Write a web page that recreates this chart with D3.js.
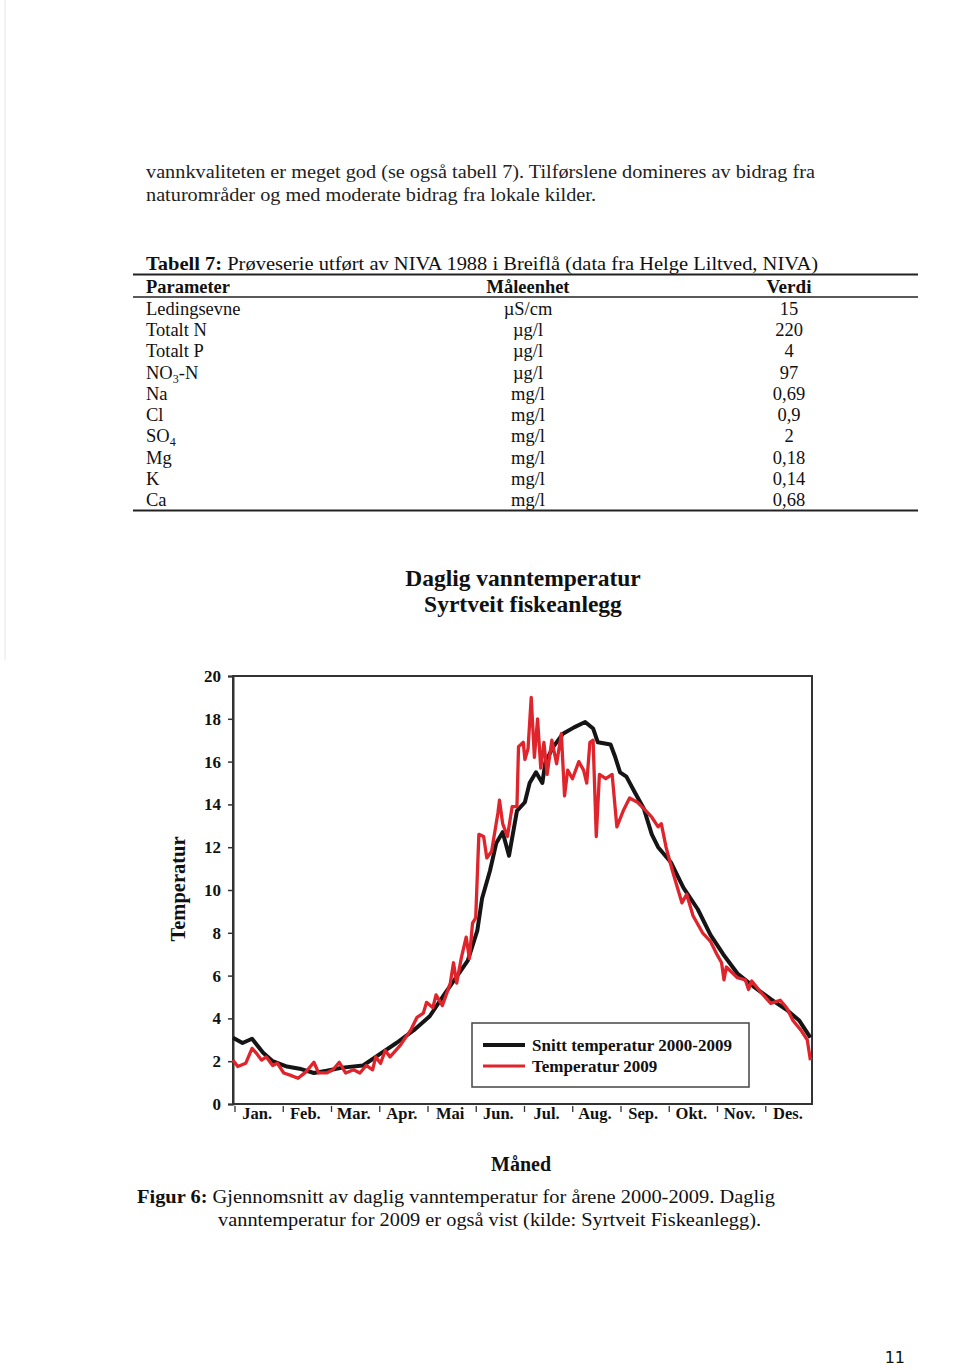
<!DOCTYPE html>
<html><head><meta charset="utf-8">
<script src="https://cdn.jsdelivr.net/npm/d3@7"></script>
<style>
html,body{margin:0;padding:0;background:#fff;}
svg{display:block;}
</style></head>
<body>
<svg id="page" width="960" height="1370"></svg>
<script>
// ---------- DATA ----------
const introLines = [
  "vannkvaliteten er meget god (se også tabell 7). Tilførslene domineres av bidrag fra",
  "naturområder og med moderate bidrag fra lokale kilder."
];
const tableTitleBold = "Tabell 7:";
const tableTitleRest = " Prøveserie utført av NIVA 1988 i Breiflå (data fra Helge Liltved, NIVA)";
const tableHeaders = ["Parameter", "Måleenhet", "Verdi"];
const paramNames = [["Ledingsevne"],["Totalt N"],["Totalt P"],["NO","3","-N"],["Na"],["Cl"],["SO","4",""],["Mg"],["K"],["Ca"]];
const paramUnits = ["µS/cm","µg/l","µg/l","µg/l","mg/l","mg/l","mg/l","mg/l","mg/l","mg/l"];
const paramValues = ["15","220","4","97","0,69","0,9","2","0,18","0,14","0,68"];

const chartTitle = ["Daglig vanntemperatur", "Syrtveit fiskeanlegg"];
const months = ["Jan.","Feb.","Mar.","Apr.","Mai","Jun.","Jul.","Aug.","Sep.","Okt.","Nov.","Des."];
const yTicks = [0,2,4,6,8,10,12,14,16,18,20];
const seriesNames = ["Snitt temperatur 2000-2009", "Temperatur 2009"];

// average 2000-2009 : day of year, temperature
const avgDays = [0,6,12,19,25,34,42,51,59,69,82,93,103,114,124,133,141,148,154,157,162,166,170,174,179,184,187,191,195,197,202,208,215,222,227,230,238,241,244,248,253,259,264,268,276,284,293,301,309,318,328,339,349,357,364];
const avgTemp = [3.1,2.85,3.05,2.4,2.0,1.75,1.65,1.45,1.55,1.7,1.8,2.35,2.85,3.45,4.1,5.1,5.95,6.7,8.1,9.6,10.9,12.2,12.7,11.6,13.7,14.1,15.0,15.5,15.0,16.0,16.7,17.3,17.6,17.85,17.55,16.9,16.8,16.2,15.5,15.3,14.6,13.8,12.6,12.0,11.3,10.1,9.1,7.9,7.0,6.1,5.5,4.9,4.4,3.9,3.1];

// 2009
const y09Days = [0,3,8,12,15,18,21,25,28,32,36,41,46,51,54,59,63,67,71,76,80,84,88,90,93,96,99,105,112,116,120,122,126,128,132,137,139,141,144,147,149,151,153,155,158,160,163,167,168,170,173,176,179,180,183,184,186,188,190,192,194,196,198,201,204,207,209,211,214,218,221,223,225,227,229,231,235,239,242,246,250,255,259,264,268,270,273,277,283,286,290,296,301,305,308,309.5,311,318,323,325,327,333,339,345,349,353,358,362,364];
const y09Temp = [2.05,1.75,1.9,2.6,2.35,2.05,2.2,1.8,1.9,1.45,1.35,1.2,1.5,1.95,1.45,1.45,1.6,1.95,1.45,1.6,1.45,1.8,1.6,2.2,1.9,2.5,2.2,2.7,3.45,4.05,4.25,4.75,4.5,5.1,4.6,5.65,6.6,5.65,6.85,7.8,6.8,8.45,8.7,12.6,12.5,11.5,11.8,13.6,14.2,13.1,12.5,13.9,13.9,16.7,16.9,16.1,16.6,19.0,16.2,18.0,15.7,16.9,15.4,17.0,15.9,17.3,14.4,15.6,15.2,16.0,15.6,15.0,16.9,17.0,12.5,15.4,15.2,15.4,12.95,13.7,14.3,14.1,13.8,13.4,12.95,13.1,12.0,10.9,9.4,9.8,8.8,8.0,7.6,7.0,6.6,5.8,6.4,5.9,5.8,5.35,5.75,5.2,4.7,4.85,4.5,3.9,3.45,3.0,2.05];

const axisTitleY = "Temperatur";
const axisTitleX = "Måned";
const captionBold = "Figur 6:";
const captionRest = " Gjennomsnitt av daglig vanntemperatur for årene 2000-2009. Daglig";
const captionLine2 = "vanntemperatur for 2009 er også vist (kilde: Syrtveit Fiskeanlegg).";
const pageNumber = "11";

// ---------- DRAW ----------
const svg = d3.select("#page");
const serif = "'Liberation Serif','Times New Roman',serif";
svg.append("rect").attr("width",960).attr("height",1370).attr("fill","#fff");
svg.append("line").attr("x1",5).attr("x2",5).attr("y1",0).attr("y2",660).attr("stroke","#e6e6e6").attr("stroke-width",1);

// intro text
svg.append("text").attr("x",146).attr("y",178).attr("font-family",serif).attr("font-size",19.5)
  .attr("textLength",669).attr("lengthAdjust","spacingAndGlyphs").attr("fill","#222").text(introLines[0]);
svg.append("text").attr("x",146).attr("y",201).attr("font-family",serif).attr("font-size",19.5)
  .attr("textLength",450).attr("lengthAdjust","spacingAndGlyphs").attr("fill","#222").text(introLines[1]);

// table
const tt = svg.append("text").attr("x",146).attr("y",270).attr("font-family",serif).attr("font-size",19.5)
  .attr("textLength",672).attr("lengthAdjust","spacingAndGlyphs").attr("fill","#111");
tt.append("tspan").attr("font-weight","bold").text(tableTitleBold);
tt.append("tspan").text(tableTitleRest);
svg.append("line").attr("x1",133).attr("x2",918).attr("y1",274.5).attr("y2",274.5).attr("stroke","#222").attr("stroke-width",2);
svg.append("line").attr("x1",133).attr("x2",918).attr("y1",297).attr("y2",297).attr("stroke","#222").attr("stroke-width",1.5);
svg.append("line").attr("x1",133).attr("x2",918).attr("y1",510.5).attr("y2",510.5).attr("stroke","#222").attr("stroke-width",2);

const colX = [146, 528, 789];
const colAnchor = ["start","middle","middle"];
const headerW = [84, 83, 45];
tableHeaders.forEach((h,i)=>{
  svg.append("text").attr("x",colX[i]).attr("y",293).attr("text-anchor",colAnchor[i])
    .attr("font-family",serif).attr("font-size",18.5).attr("font-weight","bold").attr("fill","#111")
    .attr("textLength",headerW[i]).attr("lengthAdjust","spacingAndGlyphs").text(h);
});
const rowY = d3.scaleLinear().domain([0,9]).range([315,506]);
paramNames.forEach((p,i)=>{
  const t = svg.append("text").attr("x",colX[0]).attr("y",rowY(i)).attr("font-family",serif)
    .attr("font-size",18.5).attr("fill","#111");
  t.append("tspan").text(p[0]);
  if (p.length>1){
    t.append("tspan").attr("font-size",12).attr("dy",4).text(p[1]);
    t.append("tspan").attr("dy",-4).text(p[2]);
  }
  svg.append("text").attr("x",colX[1]).attr("y",rowY(i)).attr("text-anchor","middle").attr("font-family",serif)
    .attr("font-size",18.5).attr("fill","#111").text(paramUnits[i]);
  svg.append("text").attr("x",colX[2]).attr("y",rowY(i)).attr("text-anchor","middle").attr("font-family",serif)
    .attr("font-size",18.5).attr("fill","#111").text(paramValues[i]);
});

// chart title
svg.append("text").attr("x",523).attr("y",586).attr("text-anchor","middle").attr("font-family",serif)
  .attr("font-size",23.5).attr("font-weight","bold").attr("fill","#111").text(chartTitle[0]);
svg.append("text").attr("x",523).attr("y",612).attr("text-anchor","middle").attr("font-family",serif)
  .attr("font-size",23.5).attr("font-weight","bold").attr("fill","#111").text(chartTitle[1]);

// plot
const L=233, R=812, T=676, B=1104;
const x = d3.scaleLinear().domain([0,365]).range([L,R]);
const y = d3.scaleLinear().domain([0,20]).range([B,T]);
const xm = d3.scaleBand().domain(months).range([L,R]);

// frame
svg.append("rect").attr("x",L).attr("y",T).attr("width",R-L).attr("height",B-T)
  .attr("fill","none").attr("stroke","#333").attr("stroke-width",2);

// y axis
const yAxis = d3.axisLeft(y).tickValues(yTicks).tickSize(5).tickPadding(7);
const gy = svg.append("g").attr("transform",`translate(${L},0)`).call(yAxis);
gy.select(".domain").attr("stroke","#333").attr("stroke-width",2);
gy.selectAll(".tick line").attr("stroke","#333").attr("stroke-width",1.5);
gy.selectAll(".tick text").attr("font-family",serif).attr("font-size",17).attr("font-weight","bold").attr("fill","#111");

// x axis (months)
const xAxis = d3.axisBottom(xm).tickSize(0).tickPadding(3);
const gx = svg.append("g").attr("transform",`translate(0,${B})`).call(xAxis);
gx.select(".domain").remove();
gx.selectAll(".tick text").attr("font-family",serif).attr("font-size",16.5).attr("font-weight","bold").attr("fill","#111");
svg.append("g").selectAll("line").data(months).join("line")
  .attr("x1",d=>xm(d)+2).attr("x2",d=>xm(d)+2).attr("y1",B+2).attr("y2",B+8)
  .attr("stroke","#333").attr("stroke-width",1.3);

// lines
const avgData = avgDays.map((d,i)=>({d, t:avgTemp[i]}));
const y09Data = y09Days.map((d,i)=>({d, t:y09Temp[i]}));
const line = d3.line().x(p=>x(p.d)).y(p=>y(p.t));
svg.append("path").datum(avgData).attr("d",line).attr("fill","none").attr("stroke","#151515")
  .attr("stroke-width",4).attr("stroke-linejoin","round");
svg.append("path").datum(y09Data).attr("d",line).attr("fill","none").attr("stroke","#e0242c")
  .attr("stroke-width",3.3).attr("stroke-linejoin","round");

// legend
svg.append("rect").attr("x",472).attr("y",1023).attr("width",277).attr("height",64)
  .attr("fill","#fff").attr("stroke","#444").attr("stroke-width",1.5);
const legColors = ["#151515","#e0242c"];
seriesNames.forEach((n,i)=>{
  const ly = 1045 + i*21;
  svg.append("line").attr("x1",483).attr("x2",525).attr("y1",ly).attr("y2",ly)
    .attr("stroke",legColors[i]).attr("stroke-width",i?3:4);
  svg.append("text").attr("x",532).attr("y",ly+6).attr("font-family",serif).attr("font-size",17)
    .attr("font-weight","bold").attr("fill","#111").text(n);
});

// axis titles
svg.append("text").attr("transform","translate(185,889) rotate(-90)").attr("text-anchor","middle")
  .attr("font-family",serif).attr("font-size",20.5).attr("font-weight","bold").attr("fill","#111").text(axisTitleY);
svg.append("text").attr("x",521).attr("y",1171).attr("text-anchor","middle")
  .attr("font-family",serif).attr("font-size",20).attr("font-weight","bold").attr("fill","#111").text(axisTitleX);

// caption
const c1 = svg.append("text").attr("x",137).attr("y",1203).attr("font-family",serif).attr("font-size",19.5)
  .attr("textLength",638).attr("lengthAdjust","spacingAndGlyphs").attr("fill","#111");
c1.append("tspan").attr("font-weight","bold").text(captionBold);
c1.append("tspan").text(captionRest);
svg.append("text").attr("x",218).attr("y",1226).attr("font-family",serif).attr("font-size",19.5)
  .attr("textLength",543).attr("lengthAdjust","spacingAndGlyphs").attr("fill","#111").text(captionLine2);

// page number
svg.append("text").attr("x",905).attr("y",1363).attr("text-anchor","end").attr("font-family","'DejaVu Sans',sans-serif")
  .attr("font-size",16).attr("fill","#111").text(pageNumber);
</script>
</body></html>
